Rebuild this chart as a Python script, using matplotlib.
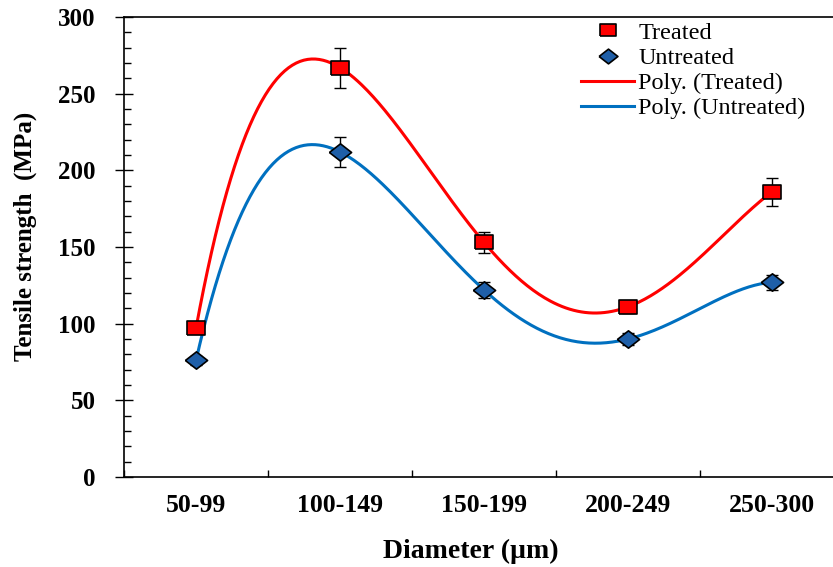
import numpy as np
import matplotlib
matplotlib.use("Agg")
import matplotlib.pyplot as plt
from matplotlib.ticker import MultipleLocator, FixedLocator

# --- data ---
categories = ["50-99", "100-149", "150-199", "200-249", "250-300"]
treated = [97, 267, 153, 111, 186]
treated_err = [3, 13, 7, 4, 9]
untreated = [76, 212, 122, 90, 127]
untreated_err = [3, 10, 5, 4, 5]

plt.rcParams["font.family"] = ["Liberation Serif", "DejaVu Serif"]

fig = plt.figure(figsize=(8.33, 5.67), dpi=100)
ax = fig.add_axes([124 / 833, 1 - 477 / 567, 720 / 833, 460 / 567])

x = np.arange(len(categories))
xs = np.linspace(x[0], x[-1], 300)

# the source picture is stretched sideways, so the markers are too
sq = [(-1, -0.72), (1, -0.72), (1, 0.72), (-1, 0.72), (-1, -0.72)]
dia = [(-1, 0), (0, 0.78), (1, 0), (0, -0.78), (-1, 0)]

# order-4 polynomial trendlines (Excel "Poly.")
red = "#ff0000"
blue = "#0070c0"
p_t = np.polyfit(x, treated, 4)
p_u = np.polyfit(x, untreated, 4)
line_t, = ax.plot(xs, np.polyval(p_t, xs), color=red, lw=2.2, zorder=2)
line_u, = ax.plot(xs, np.polyval(p_u, xs), color=blue, lw=2.2, zorder=2)

ax.errorbar(x, treated, yerr=treated_err, fmt="none", ecolor="black",
            elinewidth=1, capsize=4.5, capthick=1, zorder=3)
ax.errorbar(x, untreated, yerr=untreated_err, fmt="none", ecolor="black",
            elinewidth=1, capsize=4.5, capthick=1, zorder=3)
mk_t, = ax.plot(x, treated, ls="none", marker=sq, ms=13.5, mfc=red,
                mec="black", mew=1.2, zorder=4)
mk_u, = ax.plot(x, untreated, ls="none", marker=dia, ms=16, mfc="#1f5fa8",
                mec="black", mew=1.2, zorder=4)

ax.set_xlim(-0.5, 4.5)
ax.set_ylim(0, 300)
ax.set_xticks(x)
ax.set_xticklabels(categories, fontsize=18.5, fontweight="bold")
ax.xaxis.set_minor_locator(FixedLocator(np.arange(-0.5, 4.6, 1)))
ax.tick_params(axis="x", which="major", length=0, pad=12)
ax.tick_params(axis="x", which="minor", direction="in", length=5, width=1)
ax.yaxis.set_major_locator(MultipleLocator(50))
ax.yaxis.set_minor_locator(MultipleLocator(10))
ax.tick_params(axis="y", which="major", direction="inout", length=13, width=1,
               labelsize=18, pad=14)
ax.tick_params(axis="y", which="minor", direction="in", length=5, width=1)
for lab in ax.get_yticklabels():
    lab.set_fontweight("bold")

for s in ax.spines.values():
    s.set_linewidth(1.2)

ax.set_xlabel("Diameter (\u00b5m)", fontsize=20, fontweight="bold")
ax.xaxis.set_label_coords(0.482, -0.135)
ax.xaxis.label.set_va("top")
ax.set_ylabel("Tensile strength  (MPa)", fontsize=18, fontweight="bold")
ax.yaxis.set_label_coords(-0.121, 0.524)

ax.legend([mk_t, mk_u, line_t, line_u],
          ["Treated", "Untreated", "Poly. (Treated)", "Poly. (Untreated)"],
          loc="upper left", bbox_to_anchor=(0.628, 1.0), frameon=False,
          fontsize=17.5, handlelength=2.2, labelspacing=0.13, borderpad=0.2,
          borderaxespad=0, handletextpad=0.15, markerscale=0.85)

fig.savefig("out.png", dpi=100)
